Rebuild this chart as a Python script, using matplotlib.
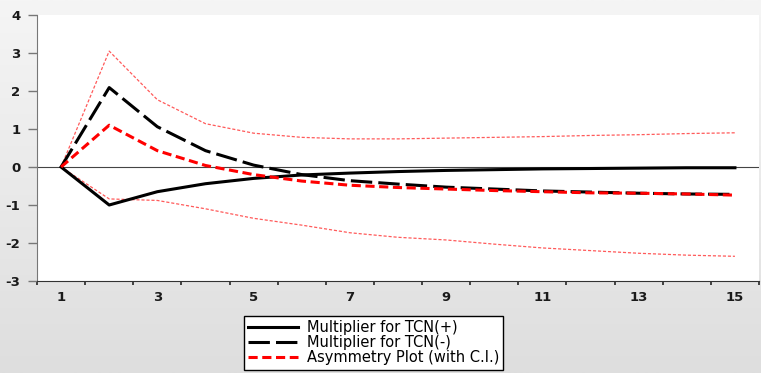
import numpy as np
import matplotlib
matplotlib.use("Agg")
import matplotlib.pyplot as plt

plt.rcParams['font.family'] = ['DejaVu Sans']
plt.rcParams['axes.unicode_minus'] = False

# horizons
periods = list(range(1, 16))

# cumulative dynamic multipliers
mult_pos = [0, -1.00, -0.65, -0.44, -0.30, -0.21, -0.16, -0.12, -0.09, -0.07, -0.05, -0.04, -0.03, -0.02, -0.02]
mult_neg = [0, 2.09, 1.06, 0.43, 0.05, -0.20, -0.36, -0.45, -0.53, -0.58, -0.63, -0.66, -0.69, -0.71, -0.72]
asym = [0, 1.10, 0.43, 0.04, -0.20, -0.37, -0.48, -0.54, -0.58, -0.62, -0.65, -0.68, -0.69, -0.71, -0.74]
ci_up = [0, 3.05, 1.77, 1.14, 0.89, 0.78, 0.74, 0.74, 0.76, 0.78, 0.80, 0.83, 0.85, 0.88, 0.90]
ci_low = [0, -0.84, -0.88, -1.10, -1.35, -1.53, -1.73, -1.85, -1.92, -2.03, -2.13, -2.20, -2.27, -2.32, -2.35]

labels = ['Multiplier for TCN(+)', 'Multiplier for TCN(-)', 'Asymmetry Plot (with C.I.)']

fig = plt.figure(figsize=(7.61, 3.73), dpi=100)

# fond gris en dégradé
bg = fig.add_axes([0, 0, 1, 1], zorder=-10)
grad = np.linspace(0, 1, 256).reshape(-1, 1)
bg.imshow(grad, aspect='auto', cmap=matplotlib.colors.LinearSegmentedColormap.from_list('g', ['#f5f5f5', '#dedede']),
          extent=[0, 1, 0, 1])
bg.axis('off')

ax = fig.add_axes([37 / 761, 1 - 281 / 373, 722 / 761, 266 / 373])
ax.set_facecolor('white')

ax.axhline(0, color='#444444', lw=0.8, zorder=1)
ax.plot(periods, ci_up, color='#ff5a5a', lw=0.9, dashes=(2.5, 1.5))
ax.plot(periods, ci_low, color='#ff5a5a', lw=0.9, dashes=(2.5, 1.5))
l1, = ax.plot(periods, mult_pos, color='black', lw=2.2)
l2, = ax.plot(periods, mult_neg, color='black', lw=2.2, dashes=(7, 2))
l3, = ax.plot(periods, asym, color='#ff0000', lw=2.2, dashes=(3, 1.5))

ax.set_xlim(0.5, 15.5)
ax.set_ylim(-3, 4)
ax.set_xticks(range(1, 16, 2))
ax.set_xticks(np.arange(0.5, 15.6, 1), minor=True)
ax.set_yticks(range(-3, 5))
ax.tick_params(axis='x', which='major', length=0, labelsize=9.5, pad=7, labelcolor='#1a1a1a')
ax.tick_params(axis='x', which='minor', length=3, width=1.3, color='#333333')
ax.tick_params(axis='y', length=6.5, width=1, color='#777777', labelsize=9.5, pad=5.5, labelcolor='#1a1a1a')
for lab in ax.get_xticklabels() + ax.get_yticklabels():
    lab.set_fontweight('bold')

for s in ['top', 'right']:
    ax.spines[s].set_visible(False)
ax.spines['left'].set_color('#777777')
ax.spines['bottom'].set_color('#333333')

leg = fig.legend([l1, l2, l3], labels, loc='upper left', bbox_to_anchor=(244 / 761, 1 - 316 / 373),
                 fontsize=10.5, frameon=True, fancybox=False, edgecolor='black', facecolor='white',
                 framealpha=1, handlelength=3.4, labelspacing=0.0, borderpad=0.3, handletextpad=0.6,
                 borderaxespad=0)
leg.get_frame().set_linewidth(1)

fig.savefig('out.png', dpi=100)
